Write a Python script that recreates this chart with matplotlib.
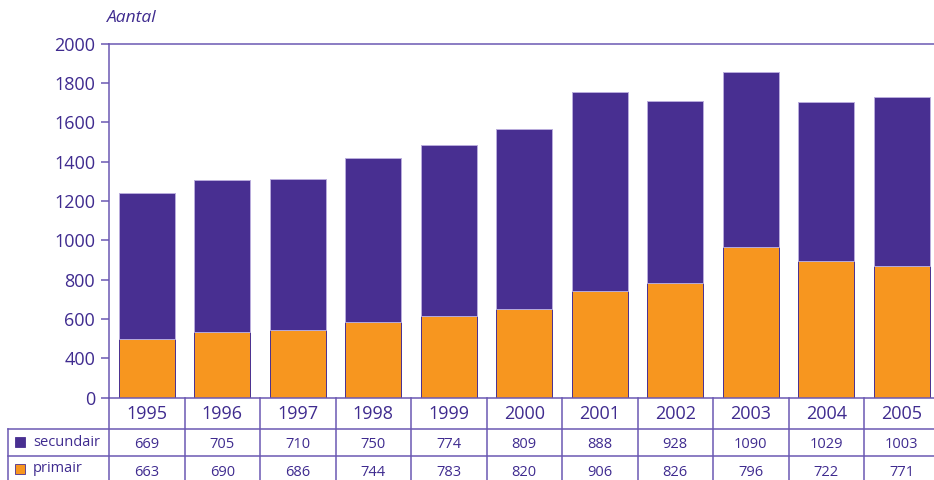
import matplotlib
matplotlib.use("Agg")
import matplotlib.pyplot as plt
from matplotlib.lines import Line2D
from matplotlib.patches import Rectangle
from matplotlib.transforms import blended_transform_factory

# --- data -------------------------------------------------------------
years = ["1995", "1996", "1997", "1998", "1999", "2000",
         "2001", "2002", "2003", "2004", "2005"]
# bar heights on the value axis
primair_bar = [497, 535, 542, 586, 615, 651, 741, 785, 965, 897, 868]
secundair_bar = [743, 772, 769, 832, 872, 917, 1013, 923, 890, 807, 862]
# figures printed in the data table
secundair_table = [669, 705, 710, 750, 774, 809, 888, 928, 1090, 1029, 1003]
primair_table = [663, 690, 686, 744, 783, 820, 906, 826, 796, 722, 771]
ytick_values = [200, 400, 600, 800, 1000, 1200, 1400, 1600, 1800, 2000]
ytick_labels = ["0", "400", "600", "800", "1000", "1200", "1400", "1600", "1800", "2000"]

# --- style ------------------------------------------------------------
PURPLE = "#482f91"
ORANGE = "#f7961f"
TEXT = "#3f2b8f"
LINE = "#6b58b3"
plt.rcParams["font.family"] = ["Open Sans", "DejaVu Sans"]

W, H = 934, 480
fig = plt.figure(figsize=(W / 100, H / 100), dpi=100)

left_px, right_px = 109, 109 + 11 * 75.5
bottom_px, top_px = 397.7, 43.7
ax = fig.add_axes([left_px / W, 1 - bottom_px / H,
                   (right_px - left_px) / W, (bottom_px - top_px) / H])

x = list(range(len(years)))
ax.bar(x, primair_bar, width=0.74, color=ORANGE, edgecolor=PURPLE,
       linewidth=0.7, zorder=2)
ax.bar(x, secundair_bar, bottom=primair_bar, width=0.74, color=PURPLE,
       edgecolor="#b9acdc", linewidth=0.7, zorder=2)

ax.set_xlim(-0.5, len(years) - 0.5)
ax.set_ylim(200, 2000)
ax.set_yticks(ytick_values)
ax.set_yticklabels(ytick_labels)
ax.set_xticks([])
ax.tick_params(axis="y", colors=LINE, labelcolor=TEXT, labelsize=13,
               length=6, width=1.1, pad=4, direction="out")
ax.spines["right"].set_visible(False)
for side in ("left", "top", "bottom"):
    ax.spines[side].set_color(LINE)
    ax.spines[side].set_linewidth(1.1)

fig.text(107 / W, 1 - 18 / H, "Aantal", fontsize=12.5, style="italic",
         color=TEXT, ha="left", va="center")

# --- data table under the bars -----------------------------------------
tr = blended_transform_factory(ax.transData, fig.transFigure)


def fy(py):
    return 1 - py / H


# column separators
for k in range(len(years) + 1):
    fig.add_artist(Line2D([k - 0.5, k - 0.5], [fy(bottom_px), fy(H + 2)],
                          transform=tr, color=LINE, linewidth=1.1))
# row separators and left edge
for py in (429, 456):
    fig.add_artist(Line2D([8 / W, 1.0], [fy(py), fy(py)],
                          transform=fig.transFigure, color=LINE, linewidth=1.1))
fig.add_artist(Line2D([8 / W, 8 / W], [fy(429), fy(H + 2)],
                      transform=fig.transFigure, color=LINE, linewidth=1.1))

for i, yr in enumerate(years):
    fig.text(i, fy(414), yr, transform=tr, ha="center", va="center",
             fontsize=13, color=TEXT)
    fig.text(i, fy(445), str(secundair_table[i]), transform=tr, ha="center",
             va="center", fontsize=10.5, color=TEXT)
    fig.text(i, fy(472), str(primair_table[i]), transform=tr, ha="center",
             va="center", fontsize=10.5, color=TEXT)

for py, name, col in ((442, "secundair", PURPLE), (469, "primair", ORANGE)):
    fig.add_artist(Rectangle((15 / W, fy(py + 5)), 10 / W, 10 / H,
                             transform=fig.transFigure, facecolor=col,
                             edgecolor=PURPLE, linewidth=0.6))
    fig.text(33 / W, fy(py), name, ha="left", va="center", fontsize=10.5,
             color=TEXT)

fig.savefig("out.png", dpi=100)
